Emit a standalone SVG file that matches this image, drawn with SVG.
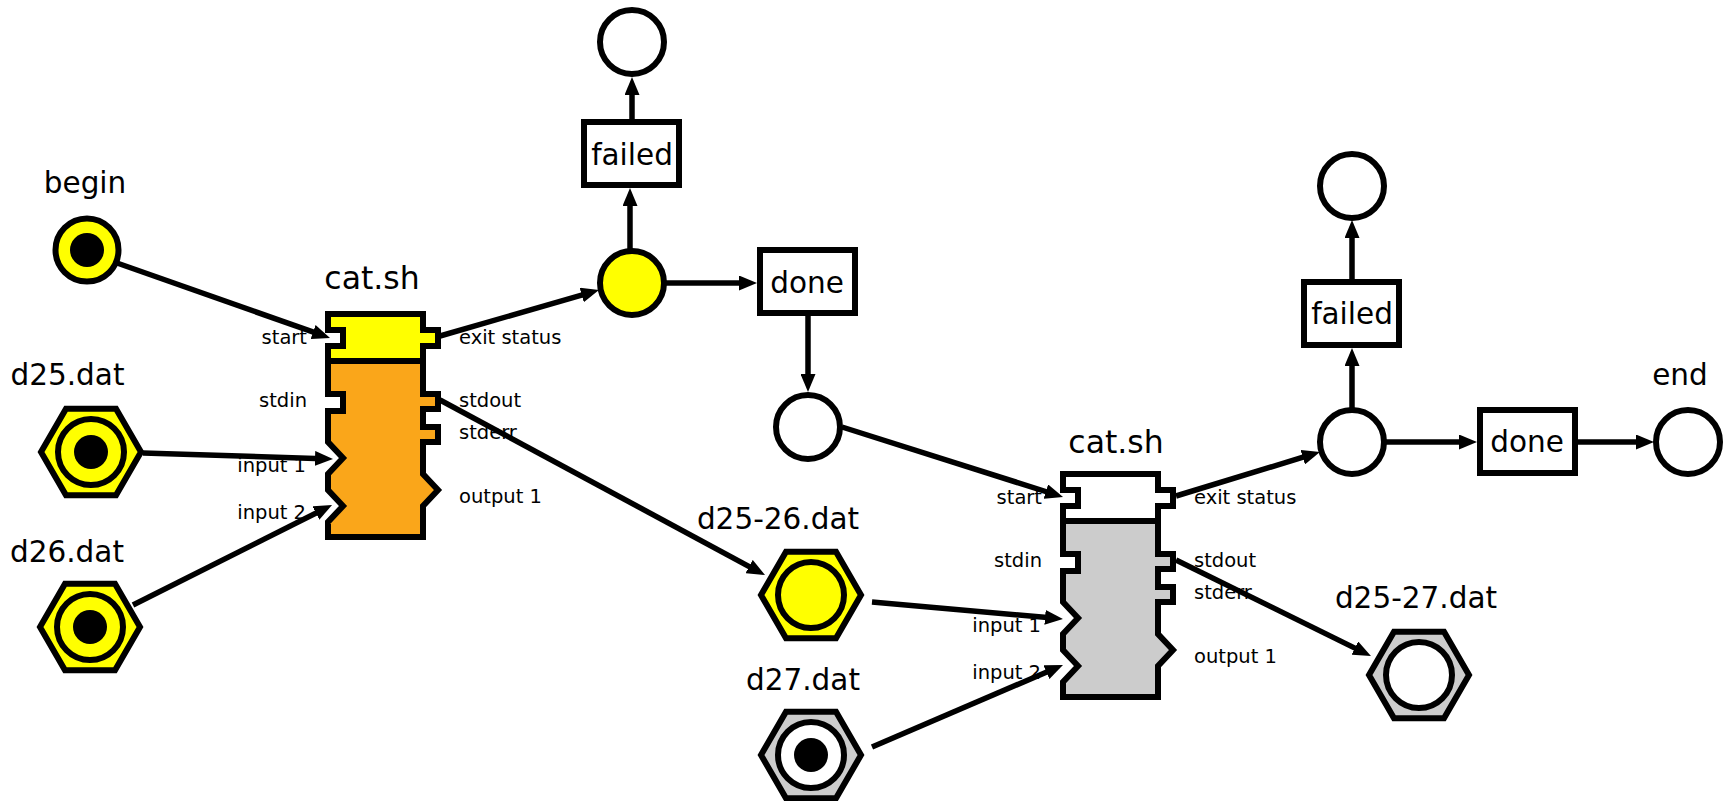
<svg xmlns="http://www.w3.org/2000/svg" width="1730" height="801" viewBox="0 0 1730 801">
<style>
.bg{fill:#ffffff}
.st{stroke:#000;stroke-width:6;stroke-linejoin:miter}
.ol{fill:none;stroke:#000;stroke-width:6;stroke-linejoin:miter}
.y{fill:#ffff00}
.o{fill:#faa61a}
.g{fill:#cccccc}
.w{fill:#ffffff}
.k{fill:#000}
.big{font-family:"DejaVu Sans","Liberation Sans",sans-serif;font-size:29.5px;fill:#000}
.ttl{font-size:31.5px}
.sm{font-family:"DejaVu Sans","Liberation Sans",sans-serif;font-size:19.5px;fill:#000}
.mid{text-anchor:middle}
.end{text-anchor:end}
.cn{fill:none;stroke:#000;stroke-width:5.5}
</style>
<defs>
<marker id="ah" viewBox="0 0 18 15" refX="8" refY="7.5" markerWidth="18" markerHeight="15" markerUnits="userSpaceOnUse" orient="auto">
<path d="M0,0 L18,7.5 L0,15 z" fill="#000"/>
</marker>
<path id="boxTop" d="M328,314 H423 V330 H438 V346 H423 V361 H328 V346 H343 V330 H328 Z"/>
<path id="boxBot" d="M328,361 H423 V394 H438 V409 H423 V427 H438 V442 H423 V474 L438,490 L423,506 V537 H328 V522 L343,506 L328,490 V474 L343,458 L328,442 V411 H343 V394 H328 Z"/>
<path id="boxOut" d="M328,314 H423 V330 H438 V346 H423 V394 H438 V409 H423 V427 H438 V442 H423 V474 L438,490 L423,506 V537 H328 V522 L343,506 L328,490 V474 L343,458 L328,442 V411 H343 V394 H328 V346 H343 V330 H328 Z M328,361 H423"/>
</defs>
<rect class="bg" x="0" y="0" width="1730" height="801"/>

<g id="begin">
<circle class="y st" cx="87" cy="250" r="31.5"/>
<circle class="k" cx="87" cy="250" r="17"/>
<text class="big mid" x="85" y="193">begin</text>
</g>

<g id="d25">
<polygon class="y st" points="141,452 116,495.3 66,495.3 41,452 66,408.7 116,408.7"/>
<circle class="y st" cx="91" cy="452" r="33"/>
<circle class="k" cx="91" cy="452" r="17"/>
<text class="big mid" x="67.5" y="385">d25.dat</text>
</g>

<g id="d26">
<polygon class="y st" points="140,627 115,670.3 65,670.3 40,627 65,583.7 115,583.7"/>
<circle class="y st" cx="90" cy="627" r="33"/>
<circle class="k" cx="90" cy="627" r="17"/>
<text class="big mid" x="67" y="562">d26.dat</text>
</g>

<g id="cat1">
<use href="#boxTop" class="y"/>
<use href="#boxBot" class="o"/>
<use href="#boxOut" class="ol"/>
<text class="big ttl mid" x="372" y="289">cat.sh</text>
<text class="sm end" x="307" y="344">start</text>
<text class="sm end" x="307" y="407">stdin</text>
<text class="sm end" x="306" y="472">input 1</text>
<text class="sm end" x="306" y="519">input 2</text>
<text class="sm" x="459" y="344">exit status</text>
<text class="sm" x="459" y="407">stdout</text>
<text class="sm" x="459" y="439">stderr</text>
<text class="sm" x="459" y="503">output 1</text>
</g>

<g id="status1">
<circle class="y st" cx="632" cy="283" r="32"/>
</g>
<g id="failed1">
<rect class="w st" x="584" y="122" width="95" height="63"/>
<text class="big mid" x="632" y="165">failed</text>
</g>
<g id="fail1end">
<circle class="w st" cx="632" cy="42" r="32"/>
</g>
<g id="done1">
<rect class="w st" x="760" y="250" width="95" height="63"/>
<text class="big mid" x="807" y="293">done</text>
</g>
<g id="mid">
<circle class="w st" cx="808" cy="427" r="32"/>
</g>

<g id="d2526">
<polygon class="y st" points="861,595 836,638.3 786,638.3 761,595 786,551.7 836,551.7"/>
<circle class="y st" cx="811" cy="595" r="33"/>
<text class="big mid" x="778" y="529">d25-26.dat</text>
</g>

<g id="d27">
<polygon class="g st" points="861,755 836,798.3 786,798.3 761,755 786,711.7 836,711.7"/>
<circle class="w st" cx="811" cy="755" r="33"/>
<circle class="k" cx="811" cy="755" r="17"/>
<text class="big mid" x="803" y="690">d27.dat</text>
</g>

<g id="cat2">
<g transform="translate(735,160)">
<use href="#boxTop" class="w"/>
<use href="#boxBot" class="g"/>
<use href="#boxOut" class="ol"/>
</g>
<text class="big ttl mid" x="1116" y="453">cat.sh</text>
<text class="sm end" x="1042" y="504">start</text>
<text class="sm end" x="1042" y="567">stdin</text>
<text class="sm end" x="1041" y="632">input 1</text>
<text class="sm end" x="1041" y="679">input 2</text>
<text class="sm" x="1194" y="504">exit status</text>
<text class="sm" x="1194" y="567">stdout</text>
<text class="sm" x="1194" y="599">stderr</text>
<text class="sm" x="1194" y="663">output 1</text>
</g>

<g id="status2">
<circle class="w st" cx="1352" cy="442" r="32"/>
</g>
<g id="failed2">
<rect class="w st" x="1304" y="282" width="95" height="63"/>
<text class="big mid" x="1352" y="324">failed</text>
</g>
<g id="fail2end">
<circle class="w st" cx="1352" cy="186" r="32"/>
</g>
<g id="done2">
<rect class="w st" x="1480" y="410" width="95" height="63"/>
<text class="big mid" x="1527" y="452">done</text>
</g>
<g id="end">
<circle class="w st" cx="1688" cy="442" r="32"/>
<text class="big mid" x="1680" y="385">end</text>
</g>

<g id="d2527">
<polygon class="g st" points="1469,675 1444,718.3 1394,718.3 1369,675 1394,631.7 1444,631.7"/>
<circle class="w st" cx="1419" cy="675" r="33"/>
<text class="big mid" x="1416" y="608">d25-27.dat</text>
</g>

<g id="connectors">
<line class="cn" x1="117" y1="263" x2="320.6" y2="334.7" marker-end="url(#ah)"/>
<line class="cn" x1="143" y1="453" x2="323" y2="458.7" marker-end="url(#ah)"/>
<line class="cn" x1="133" y1="605" x2="323.1" y2="509.5" marker-end="url(#ah)"/>
<line class="cn" x1="440" y1="336" x2="589.4" y2="292.8" marker-end="url(#ah)"/>
<line class="cn" x1="666" y1="283" x2="747" y2="283" marker-end="url(#ah)"/>
<line class="cn" x1="630" y1="251" x2="630" y2="198" marker-end="url(#ah)"/>
<line class="cn" x1="632" y1="120" x2="632" y2="87" marker-end="url(#ah)"/>
<line class="cn" x1="808" y1="315" x2="808" y2="382" marker-end="url(#ah)"/>
<line class="cn" x1="440" y1="400" x2="756.2" y2="570.3" marker-end="url(#ah)"/>
<line class="cn" x1="842" y1="427" x2="1053.5" y2="494" marker-end="url(#ah)"/>
<line class="cn" x1="872" y1="602" x2="1053" y2="618.1" marker-end="url(#ah)"/>
<line class="cn" x1="872" y1="747" x2="1053.8" y2="669" marker-end="url(#ah)"/>
<line class="cn" x1="1176" y1="496" x2="1310.4" y2="454.9" marker-end="url(#ah)"/>
<line class="cn" x1="1384" y1="442" x2="1467" y2="442" marker-end="url(#ah)"/>
<line class="cn" x1="1352" y1="410" x2="1352" y2="358" marker-end="url(#ah)"/>
<line class="cn" x1="1352" y1="280" x2="1352" y2="230" marker-end="url(#ah)"/>
<line class="cn" x1="1576" y1="442" x2="1644" y2="442" marker-end="url(#ah)"/>
<line class="cn" x1="1176" y1="560" x2="1362" y2="651.6" marker-end="url(#ah)"/>
</g>
</svg>
